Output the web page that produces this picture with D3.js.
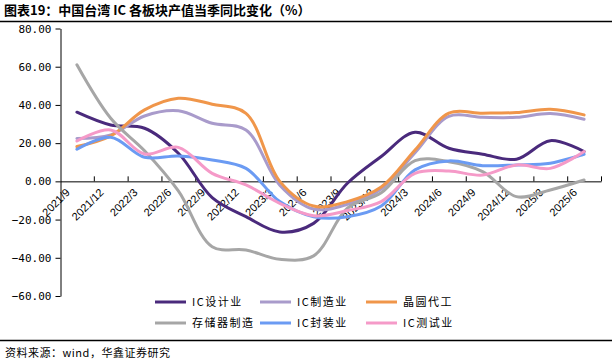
<!DOCTYPE html>
<html>
<head>
<meta charset="utf-8">
<script src="https://cdn.jsdelivr.net/npm/d3@7"></script>
<style>
  body { margin: 0; background: #fff; }
  svg { display: block; font-family: "Noto Sans CJK SC", "DejaVu Sans", sans-serif; }
</style>
</head>
<body>
<div id="chart"></div>
<script>
const W = 612, H = 363

const quarters = ["2021/9","2021/12","2022/3","2022/6","2022/9","2022/12","2023/3","2023/6",
                  "2023/9","2023/12","2024/3","2024/6","2024/9","2024/12","2025/3","2025/6"]

const icDesign   = [36.2, 29.5, 27.8, 14.7, -8.5, -18.5, -26.5, -22, -1, 13, 25.7, 17.3, 14.2, 11.6, 21.3, 15.6]
const icMfg      = [22.4, 24.3, 34.2, 36.9, 30.4, 26.9, -2, -14.5, -12, -4, 15, 34, 33.5, 33.5, 35.5, 32.5]
const foundry    = [18.2, 23.8, 37.4, 43.5, 40.4, 35.6, 0, -12.9, -10.6, -3, 16.4, 35.7, 35.7, 36, 37.7, 34.8]
const memory     = [61, 33, 16, -5, -34.2, -35.9, -40.8, -39, -14, -6, 10.8, 10.3, 5.1, -8, -4.5, 0.7]
const packaging  = [16.8, 23.1, 12.6, 13.3, 11.2, 6.8, -10.6, -18.5, -18.5, -12.9, 6, 10.7, 8.2, 8.6, 9.5, 14.2]
const testing    = [21.1, 26.9, 14.3, 17.8, 4.2, -1.9, -11.5, -18, -15.3, -10.6, 4.2, 5.4, 3.3, 8.6, 6.8, 15.6]

const yTicks = [-60, -40, -20, 0, 20, 40, 60, 80]

const series = [
  {name: "IC设计业", values: icDesign, color: "#4a2a7c"},
  {name: "IC制造业", values: icMfg, color: "#a99bcb"},
  {name: "晶圆代工", values: foundry, color: "#f0964a"},
  {name: "存储器制造", values: memory, color: "#a6a6a6"},
  {name: "IC封装业", values: packaging, color: "#6b9bf3"},
  {name: "IC测试业", values: testing, color: "#f59ac8"}
]

const svg = d3.select("#chart").append("svg")
    .attr("width", W)
    .attr("height", H)

// title + rules
svg.append("text")
    .attr("x", 4).attr("y", 15)
    .attr("font-size", 13).attr("font-weight", "bold")
    .attr("fill", "#000")
    .text("图表19：中国台湾 IC 各板块产值当季同比变化（%）")
svg.append("line").attr("x1", 0).attr("x2", W).attr("y1", 21.5).attr("y2", 21.5)
    .attr("stroke", "#000").attr("stroke-width", 1.3)
svg.append("line").attr("x1", 0).attr("x2", W).attr("y1", 340.5).attr("y2", 340.5)
    .attr("stroke", "#000").attr("stroke-width", 1.3)
svg.append("text")
    .attr("x", 5).attr("y", 357)
    .attr("font-size", 11).attr("fill", "#000")
    .attr("letter-spacing", 0.5)
    .text("资料来源：wind，华鑫证券研究")

const x = d3.scaleBand().domain(quarters).range([60, 601]).padding(0)
const y = d3.scaleLinear().domain([-60, 80]).range([296, 28.5])

// y axis
const yAxis = svg.append("g")
    .attr("transform", "translate(60.5,0)")
    .call(d3.axisLeft(y).tickValues(yTicks).tickFormat(d3.format(".2f")).tickSize(5).tickSizeOuter(0))
yAxis.select(".domain").attr("stroke", "#000")
yAxis.selectAll(".tick line").attr("stroke", "#000")
yAxis.selectAll(".tick text")
    .attr("font-size", 11).attr("fill", "#000")
    .attr("font-family", "'DejaVu Sans Mono', monospace")
    .attr("x", -9)

// x axis on zero line
const xAxis = svg.append("g")
    .attr("transform", `translate(0,${y(0)})`)
    .call(d3.axisBottom(x).tickSize(0).tickSizeOuter(0))
xAxis.select(".domain").attr("stroke", "#000")
xAxis.selectAll(".tick text")
    .attr("font-size", 11).attr("fill", "#000")
    .attr("text-anchor", "end")
    .attr("transform", "translate(-9,9) rotate(-45)")
    .attr("dy", "0.35em")
    .attr("y", 0)

// boundary ticks pointing upward
svg.append("g").selectAll("line")
    .data(quarters.slice(1).concat([null]))
    .join("line")
    .attr("x1", (d, i) => (d ? x(d) : x.range()[1]) + 0.5)
    .attr("x2", (d, i) => (d ? x(d) : x.range()[1]) + 0.5)
    .attr("y1", y(0))
    .attr("y2", y(0) - 5)
    .attr("stroke", "#000")

// lines
const line = d3.line()
    .x((d, i) => x(quarters[i]) + x.bandwidth() / 2)
    .y(d => y(d))
    .curve(d3.curveCatmullRom.alpha(0.5))

svg.append("g").selectAll("path")
    .data(series)
    .join("path")
    .attr("d", d => line(d.values))
    .attr("fill", "none")
    .attr("stroke", d => d.color)
    .attr("stroke-width", 3)
    .attr("stroke-linecap", "round")

// legend
const legCols = [155, 260, 366]
const legRows = [302, 323]
const leg = svg.append("g").selectAll("g")
    .data(series)
    .join("g")
    .attr("transform", (d, i) => `translate(${legCols[i % 3]},${legRows[Math.floor(i / 3)]})`)
leg.append("line")
    .attr("x1", 0).attr("x2", 31)
    .attr("stroke", d => d.color)
    .attr("stroke-width", 3)
leg.append("text")
    .attr("x", 37).attr("dy", "0.35em")
    .attr("font-size", 11).attr("fill", "#000")
    .attr("letter-spacing", 1.5)
    .text(d => d.name)
</script>
</body>
</html>
